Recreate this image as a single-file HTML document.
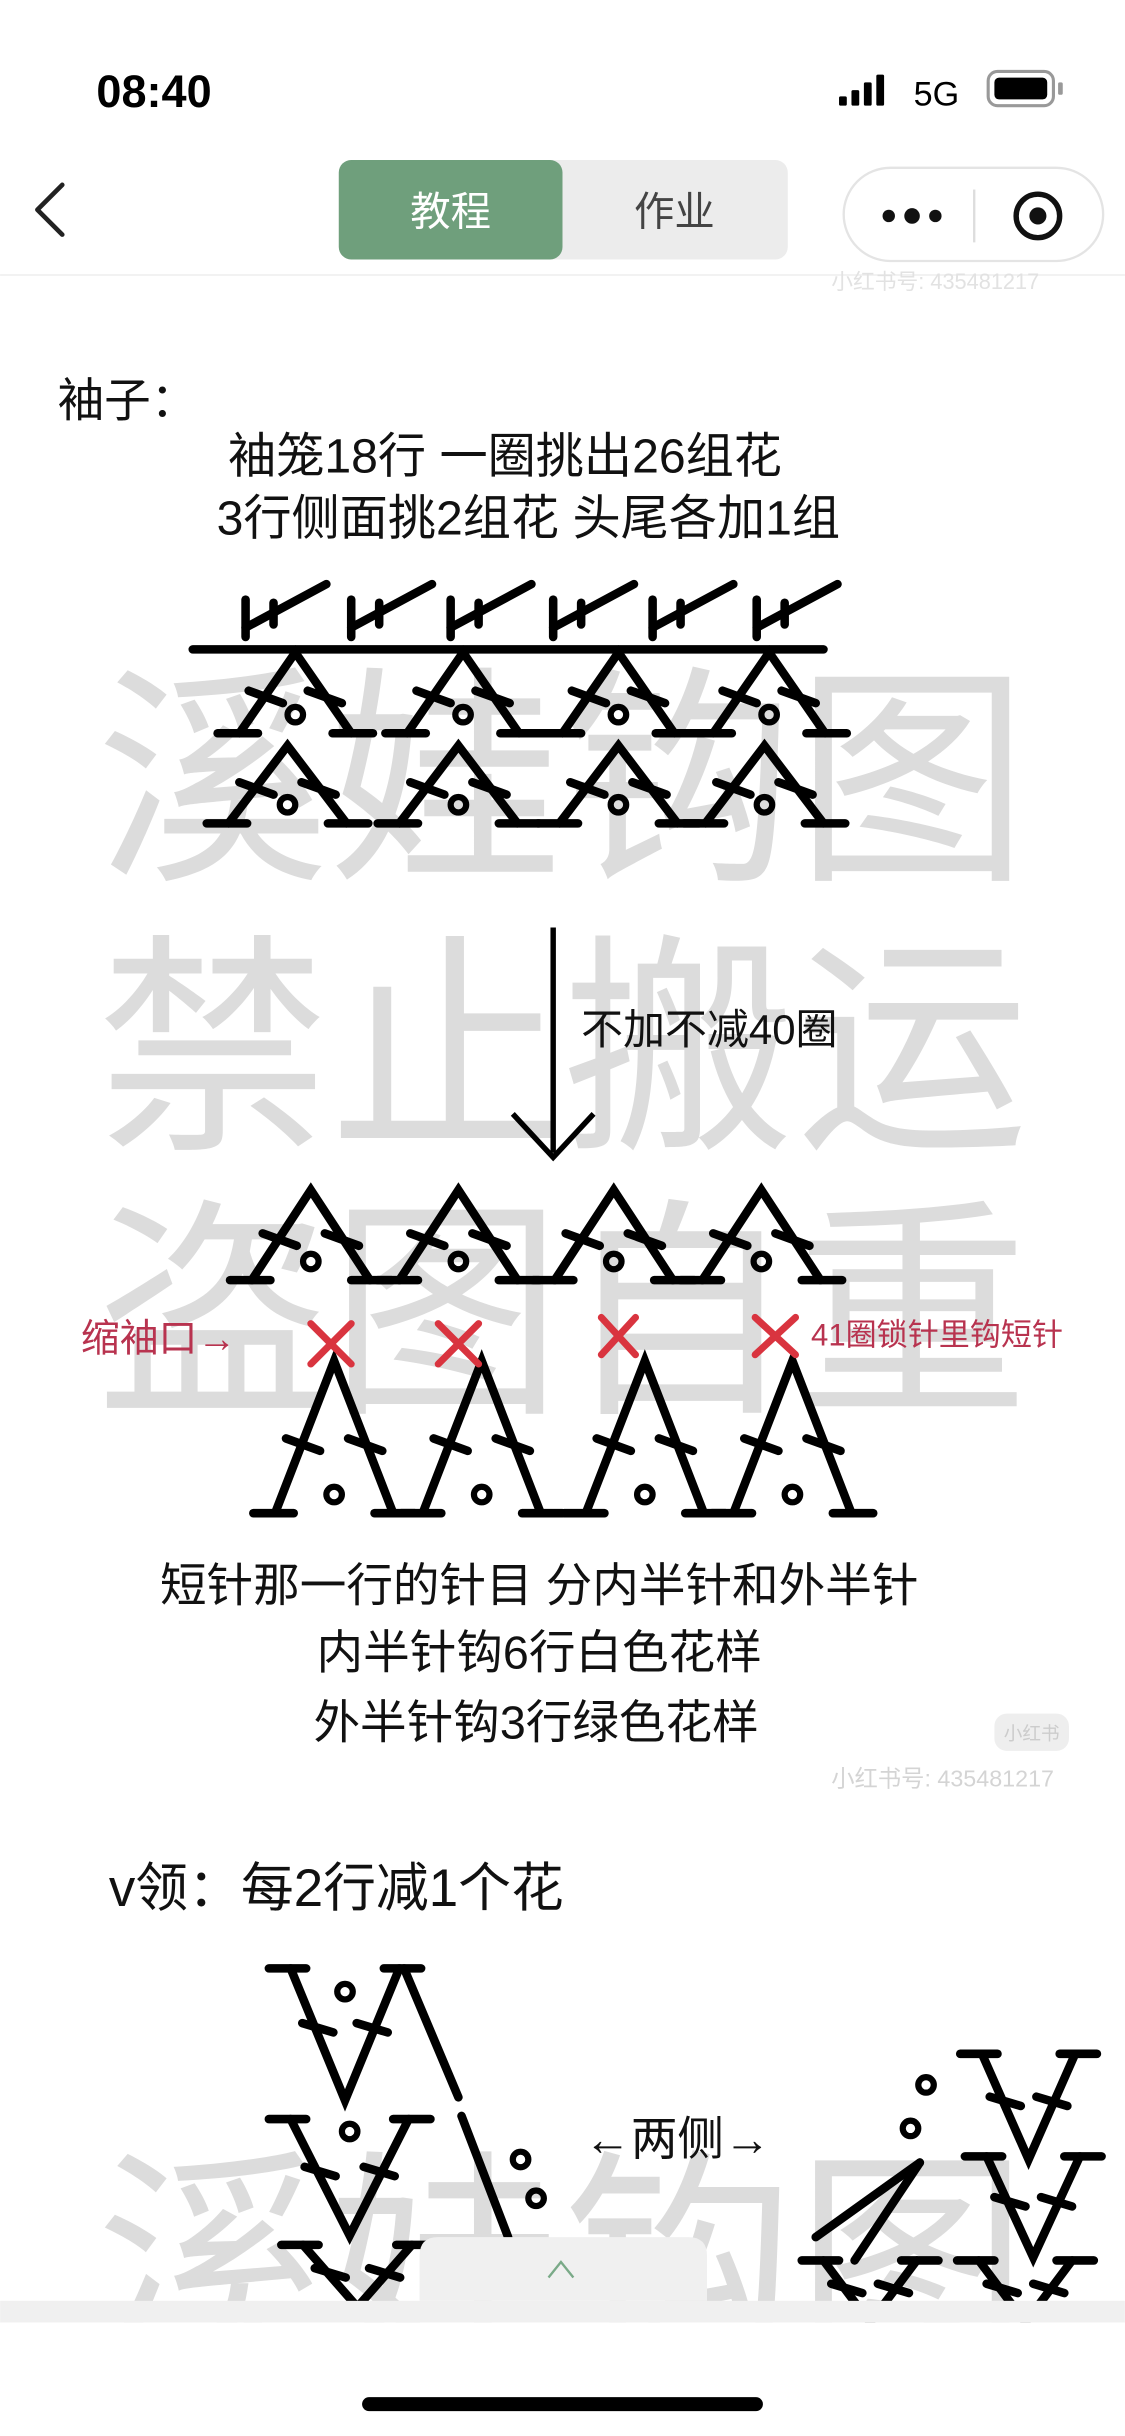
<!DOCTYPE html>
<html><head><meta charset="utf-8">
<style>
html,body{margin:0;padding:0;background:#fff;overflow:hidden;width:1125px;height:2436px;}
svg{display:block;}
text{font-family:"Liberation Sans","Noto Sans CJK SC",sans-serif;}
</style></head>
<body>
<svg id="page" width="1125" height="2436" viewBox="0 0 724 1568" xmlns="http://www.w3.org/2000/svg">
<rect width="724" height="1568" fill="#fff"/>
<text x="62" y="69" font-size="29" font-weight="bold" fill="#000">08:40</text>
<g fill="#000">
<rect x="540" y="62" width="5" height="6" rx="1"/><rect x="548" y="58" width="5" height="10" rx="1"/><rect x="556" y="53" width="5" height="15" rx="1"/><rect x="564" y="48" width="5" height="20" rx="1"/></g>
<text x="588" y="68" font-size="22" fill="#000">5G</text>
<g><rect x="636" y="46" width="42" height="22" rx="6" fill="none" stroke="#999" stroke-width="2"/><rect x="640" y="50" width="34" height="14" rx="3" fill="#000"/><rect x="681" y="53" width="3" height="8" rx="1" fill="#999"/></g>
<path d="M40 119 L24 135 L40 151" fill="none" stroke="#222" stroke-width="3" stroke-linecap="round" stroke-linejoin="round"/>
<rect x="218" y="103" width="289" height="64" rx="8" fill="#ececec"/>
<rect x="218" y="103" width="144" height="64" rx="8" fill="#6f9f7c"/>
<text x="290" y="145" font-size="26" fill="#fff" text-anchor="middle">教程</text>
<text x="434" y="145" font-size="26" fill="#444" text-anchor="middle">作业</text>
<rect x="543" y="108" width="167" height="60" rx="30" fill="#fff" stroke="#e4e4e4" stroke-width="1.5"/>
<g fill="#111"><circle cx="572" cy="139" r="4"/><circle cx="587" cy="139" r="5"/><circle cx="602" cy="139" r="4"/></g>
<line x1="627" y1="122" x2="627" y2="156" stroke="#ddd" stroke-width="1.5"/>
<g><circle cx="668" cy="139" r="14" fill="none" stroke="#111" stroke-width="3.5"/><circle cx="668" cy="139" r="5.5" fill="#111"/></g>
<line x1="0" y1="177" x2="724" y2="177" stroke="#eee" stroke-width="1"/>
<text x="535" y="186" font-size="14" fill="#e2e2e2">小红书号: 435481217</text>
<g fill="#dcdcdc" font-size="150" text-anchor="middle">
<text x="362" y="555">溪娃钩图</text>
<text x="362" y="728">禁止搬运</text>
<text x="362" y="898">盗图自重</text>
<text x="362" y="1510">溪娃钩图</text>
</g>
<text x="535" y="1150" font-size="15" fill="#d4d4d4">小红书号: 435481217</text>
<rect x="640" y="1103" width="48" height="24" rx="8" fill="#eee"/><text x="664" y="1120" font-size="12" fill="#ccc" text-anchor="middle">小红书</text>
<text x="37" y="268" font-size="30" fill="#111">袖子：</text>
<g font-size="31" fill="#111" text-anchor="middle">
<text x="325" y="304">袖笼18行 一圈挑出26组花</text>
<text x="340" y="344">3行侧面挑2组花 头尾各加1组</text></g>
<g id="diag" stroke="#000" stroke-width="5.5" stroke-linecap="round" fill="none"></g>
<line x1="356" y1="597" x2="356" y2="742" stroke="#000" stroke-width="3.5"/>
<path d="M330 717 L356 745 L382 717" stroke="#000" stroke-width="3.5" fill="none"/>
<text x="374" y="672" font-size="27" fill="#111">不加不减40圈</text>
<text x="52" y="870" font-size="25" fill="#b8334f">缩袖口→</text>
<text x="522" y="866" font-size="20" fill="#b8334f">41圈锁针里钩短针</text>
<g stroke="#d9343f" stroke-width="4.5" stroke-linecap="round">
<path d="M200 852 L226 878 M226 852 L200 878"/><path d="M282 852 L308 878 M308 852 L282 878"/>
<path d="M387 848 L409 872 M409 848 L387 872"/><path d="M486 848 L512 872 M512 848 L486 872"/></g>
<g font-size="30" fill="#111" text-anchor="middle">
<text x="347" y="1031">短针那一行的针目 分内半针和外半针</text>
<text x="347" y="1074">内半针钩6行白色花样</text>
<text x="345" y="1119">外半针钩3行绿色花样</text></g>
<text x="70" y="1227" font-size="34" fill="#111">v领：每2行减1个花</text>
<text x="376" y="1387" font-size="30" fill="#111">←两侧→</text>
<rect x="0" y="1481" width="724" height="14" fill="#f0f0f0"/>
<rect x="0" y="1495" width="724" height="73" fill="#fff"/>
<path d="M270 1481 L270 1452 Q270 1440 282 1440 L443 1440 Q455 1440 455 1452 L455 1481 Z" fill="#f0f0f0"/>
<path d="M353 1466 L361 1456 L369 1466" stroke="#7aaa88" stroke-width="1.5" fill="none"/>
<rect x="233" y="1543" width="258" height="9" rx="4.5" fill="#000"/>
</svg>
<script>
const ns="http://www.w3.org/2000/svg";
const g=document.getElementById('diag');
function P(d){const p=document.createElementNS(ns,'path');p.setAttribute('d',d);g.appendChild(p);return p;}
function C(x,y,r){const c=document.createElementNS(ns,'circle');c.setAttribute('cx',x);c.setAttribute('cy',y);c.setAttribute('r',r);c.setAttribute('stroke-width','4');g.appendChild(c);}
function tri(x,y,h,w){
  const l=x-w,r=x+w,b=y+h;
  P(`M${l} ${b} L${x} ${y} L${r} ${b}`);
  P(`M${l-14} ${b} L${l+12} ${b}`);P(`M${r-12} ${b} L${r+14} ${b}`);
  const mx1=x-w*0.5,my=y+h*0.55,mx2=x+w*0.5;
  P(`M${mx1-12} ${my-4} L${mx1+10} ${my+4}`);P(`M${mx2-10} ${my-4} L${mx2+12} ${my+4}`);
  C(x,b-12,5);
}
const row1=[190,298,398,495]; row1.forEach(x=>tri(x,420,52,36));
const row2=[185,295,398,492]; row2.forEach(x=>tri(x,480,50,38));
P('M124 418 L530 418');
[158,226,290,356,420,487].forEach(x=>{P(`M${x} ${386} L${x} ${410}`);P(`M${x} 404 L${x+52} 376`);P(`M${x+18} 388 L${x+18} 402`);});
const row3=[200,295,395,490]; row3.forEach(x=>tri(x,766,58,38));
const row4=[215,310,415,510]; row4.forEach(x=>tri(x,876,98,38));
function vee(x,y,h,w){P(`M${x-w} ${y} L${x} ${y+h} L${x+w} ${y}`);P(`M${x-w-14} ${y} L${x-w+10} ${y}`);P(`M${x+w-10} ${y} L${x+w+14} ${y}`);
 P(`M${x-w*0.5-10} ${y+h*0.45-3} L${x-w*0.5+10} ${y+h*0.45+3}`);P(`M${x+w*0.5-10} ${y+h*0.45-3} L${x+w*0.5+10} ${y+h*0.45+3}`);}
vee(222,1267,85,35);P('M260 1267 L295 1350');C(222,1282,5);
vee(225,1364,75,38);P('M297 1362 L327 1440');C(225,1372,5);C(335,1390,5);C(345,1415,5);
vee(230,1445,40,35);
vee(662,1322,68,30);vee(665,1388,65,30);C(596,1342,5);C(586,1370,5);
P('M525 1440 L592 1392');P('M550 1455 L592 1392');
vee(560,1455,40,30);vee(660,1455,40,30);
</script>
</body></html>
